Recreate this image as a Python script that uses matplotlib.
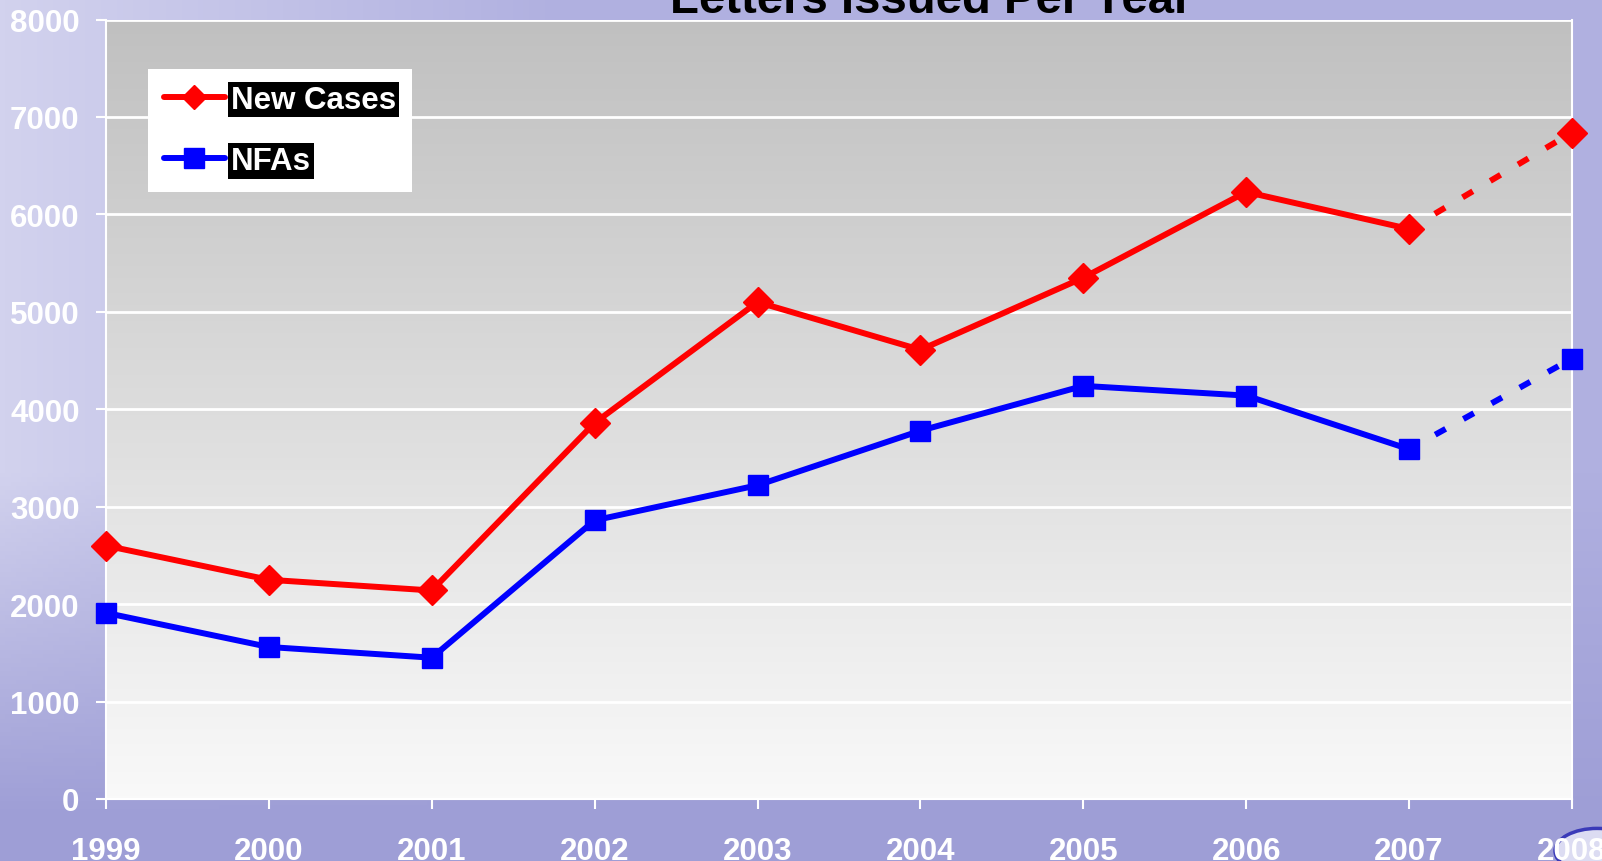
import matplotlib
matplotlib.use("Agg")
import matplotlib.pyplot as plt
import numpy as np
from matplotlib.patches import Circle

plt.rcParams['font.family'] = ['Liberation Sans', 'DejaVu Sans']

years = [1999, 2000, 2001, 2002, 2003, 2004, 2005, 2006, 2007, 2008]
new_cases = [2600, 2250, 2140, 3860, 5100, 4610, 5350, 6230, 5850, 6840]
nfas = [1910, 1560, 1450, 2860, 3220, 3780, 4240, 4140, 3590, 4520]
yticks = [0, 1000, 2000, 3000, 4000, 5000, 6000, 7000, 8000]
title = "Letters Issued Per Year"

W, H = 1602, 862
fig = plt.figure(figsize=(W / 100, H / 100), dpi=100)

# periwinkle backdrop (smooth stand-in for the water texture)
bg = fig.add_axes([0, 0, 1, 1], zorder=0)
yy, xx = np.mgrid[0:1:200j, 0:1:300j]
left_c = np.array([210, 210, 238]) / 255
right_c = np.array([176, 176, 224]) / 255
bottom = np.array([158, 158, 214]) / 255
horiz = np.clip(xx / 0.35, 0, 1)[..., None]
upper = (1 - horiz) * left_c + horiz * right_c
vert = np.clip((yy - 0.55) / 0.4, 0, 1)[..., None]
mix = (1 - vert) * upper + vert * bottom
bg.imshow(mix, aspect='auto', extent=[0, 1, 0, 1], origin='upper')
bg.set_xlim(0, 1)
bg.set_ylim(0, 1)
bg.axis('off')

# partial logo at bottom-right corner
bg.add_patch(Circle((1597 / W, 1 - 852 / H), 42 / W, transform=bg.transAxes,
                    facecolor='#dcdcf2', edgecolor='#3a3ab8', lw=2.5, clip_on=True))

ax = fig.add_axes([106 / W, 62 / H, 1466 / W, 779.5 / H], zorder=1)
ax.patch.set_alpha(0)

# plot-area gradient: grey at top, near white at bottom
grad = np.linspace(0, 1, 256)[:, None]
top_c = np.array([192, 192, 192]) / 255
bot_c = np.array([249, 249, 249]) / 255
img = (1 - grad)[..., None] * top_c + grad[..., None] * bot_c
img = np.repeat(img, 2, axis=1)
ax.imshow(img, aspect='auto', extent=[years[0], years[-1], 0, 8000],
          origin='upper', zorder=0)

for v in yticks[1:]:
    ax.axhline(v, color='white', lw=2, zorder=1)

lw = 4.3
dash = (0.4, (2.0, 3.4))
ax.plot(years[-2:], new_cases[-2:], color='#ff0000', lw=lw, ls=dash, zorder=3)
ax.plot(years[-2:], nfas[-2:], color='#0000ff', lw=lw, ls=dash, zorder=3)

ax.plot(years[:-1], new_cases[:-1], color='#ff0000', lw=lw, zorder=4,
        solid_capstyle='round', solid_joinstyle='round')
ax.plot(years, new_cases, ls='none', marker='D', ms=14.8, color='#ff0000',
        mec='#ff0000', zorder=5, clip_on=False)
ax.plot(years[:-1], nfas[:-1], color='#0000ff', lw=lw, zorder=4,
        solid_capstyle='round', solid_joinstyle='round')
ax.plot(years, nfas, ls='none', marker='s', ms=14, color='#0000ff',
        mec='#0000ff', zorder=5, clip_on=False)

ax.set_xlim(years[0], years[-1])
ax.set_ylim(0, 8000)
ax.set_yticks(yticks)
ax.set_xticks(years)
ax.set_xticklabels([str(y) for y in years])

for s in ['left', 'right', 'bottom']:
    ax.spines[s].set_color('white')
    ax.spines[s].set_linewidth(1.5)
ax.spines['top'].set_visible(False)
ax.tick_params(axis='both', colors='white', direction='out', length=7, width=1.5,
               labelsize=22.5)
ax.tick_params(axis='y', pad=12)
ax.tick_params(axis='x', pad=20)
for t in ax.get_xticklabels() + ax.get_yticklabels():
    t.set_fontweight('bold')
    t.set_color('white')

# legend with black-backed labels
h1 = plt.Line2D([], [], color='#ff0000', lw=lw, marker='D', ms=12, solid_capstyle='round')
h2 = plt.Line2D([], [], color='#0000ff', lw=lw, marker='s', ms=14, solid_capstyle='round')
leg = ax.legend([h1, h2], ['New Cases', 'NFAs'], loc='upper left',
                bbox_to_anchor=(42 / 1466, (800 - 70) / 779.5), borderaxespad=0,
                frameon=True, fancybox=False, facecolor='white', edgecolor='none',
                framealpha=1, handlelength=1.95, handletextpad=0.2,
                labelspacing=1.0, borderpad=0.5, prop={'weight': 'bold', 'size': 22.5})
leg.set_zorder(6)
for t in leg.get_texts():
    t.set_color('white')
    t.set_bbox(dict(facecolor='black', edgecolor='none', pad=2))

fig.text(931 / W, 1 - 13 / H, title, ha='center', va='baseline', fontsize=34,
         fontweight='bold', color='black')

fig.savefig('out.png', dpi=100)
